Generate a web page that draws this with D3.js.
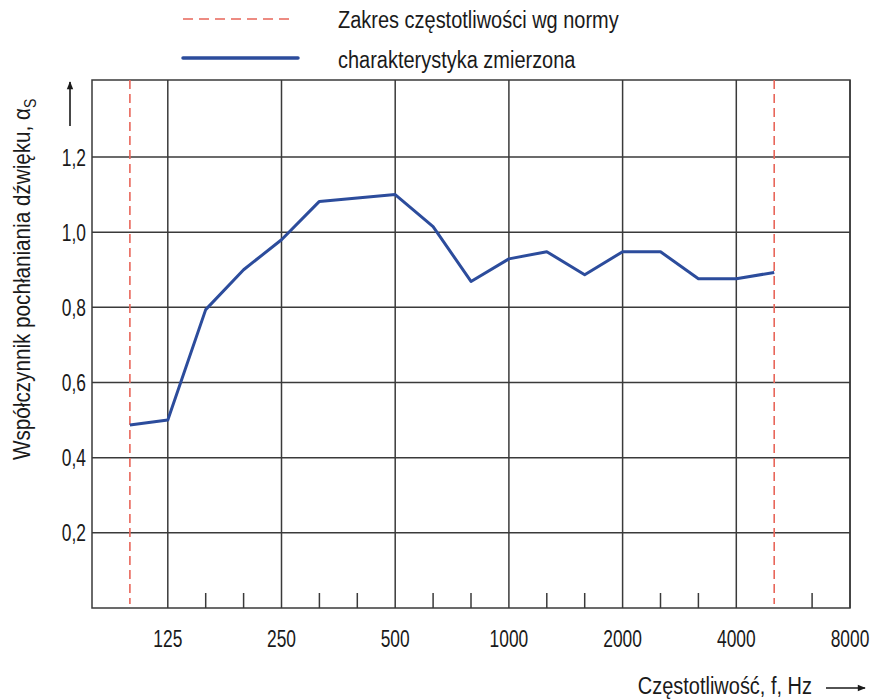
<!DOCTYPE html>
<html>
<head>
<meta charset="utf-8">
<script src="https://cdn.jsdelivr.net/npm/d3@7"></script>
<style>
  body { margin: 0; background: #fff; }
  svg text { font-family: "Liberation Sans", Arial, sans-serif; fill: #1a1a1a; font-size: 23.5px; }
</style>
</head>
<body>
<div id="chart"></div>
<script>
// third-octave bands on the axis (80 Hz = left edge, 8000 Hz = right edge)
var bands = ["80", "100", "125", "160", "200", "250", "315", "400", "500", "630", "800",
             "1000", "1250", "1600", "2000", "2500", "3150", "4000", "5000", "6300", "8000"];
var majorBands = ["125", "250", "500", "1000", "2000", "4000", "8000"];
// measured absorption coefficient, 100 .. 5000 Hz
var measuredBands = ["100", "125", "160", "200", "250", "315", "400", "500", "630", "800",
                     "1000", "1250", "1600", "2000", "2500", "3150", "4000", "5000"];
var measuredValues = [0.487, 0.50, 0.794, 0.90, 0.98, 1.082, 1.091, 1.10, 1.015, 0.869,
                      0.929, 0.948, 0.887, 0.948, 0.948, 0.876, 0.876, 0.893];
// frequency range by the standard
var rangeBands = ["100", "5000"];
var yTicks = [0.2, 0.4, 0.6, 0.8, 1.0, 1.2];
var yMax = 1.405;

var width = 871, height = 699;
var margin = {top: 80, right: 21, bottom: 91, left: 92};

// condensed look: squeeze the glyphs horizontally
var squeezeText = 0.85, squeezeNum = 0.74;

var svg = d3.select("#chart").append("svg")
    .attr("width", width)
    .attr("height", height);

var x = d3.scalePoint()
    .domain(bands)
    .range([margin.left, width - margin.right]);

var y = d3.scaleLinear()
    .domain([0, yMax])
    .range([height - margin.bottom, margin.top]);

var fmt = function(d) { return d3.format(".1f")(d).replace(".", ","); };

function place(px, py, sx) {
    return "translate(" + px + "," + py + ") scale(" + sx + ",1)";
}

var gridColor = "#3a3a3a";

// horizontal grid
svg.append("g")
    .selectAll("line")
    .data(yTicks)
    .enter().append("line")
    .attr("x1", x.range()[0])
    .attr("x2", x.range()[1])
    .attr("y1", function(d) { return y(d); })
    .attr("y2", function(d) { return y(d); })
    .attr("stroke", gridColor)
    .attr("stroke-width", 1.5);

// vertical grid at octave bands
svg.append("g")
    .selectAll("line")
    .data(majorBands)
    .enter().append("line")
    .attr("x1", function(d) { return x(d); })
    .attr("x2", function(d) { return x(d); })
    .attr("y1", y(yMax))
    .attr("y2", y(0))
    .attr("stroke", gridColor)
    .attr("stroke-width", 1.5);

// minor ticks at third-octave bands
svg.append("g")
    .selectAll("line")
    .data(bands.filter(function(d) {
        return majorBands.indexOf(d) < 0 && rangeBands.indexOf(d) < 0 && d != bands[0];
    }))
    .enter().append("line")
    .attr("x1", function(d) { return x(d); })
    .attr("x2", function(d) { return x(d); })
    .attr("y1", y(0) - 15)
    .attr("y2", y(0))
    .attr("stroke", gridColor)
    .attr("stroke-width", 1.5);

// frame
svg.append("rect")
    .attr("x", x.range()[0])
    .attr("y", y(yMax))
    .attr("width", x.range()[1] - x.range()[0])
    .attr("height", y(0) - y(yMax))
    .attr("fill", "none")
    .attr("stroke", gridColor)
    .attr("stroke-width", 1.5);

// y tick labels
svg.append("g")
    .selectAll("text")
    .data(yTicks)
    .enter().append("text")
    .attr("transform", function(d) { return place(x.range()[0] - 6, y(d), squeezeNum); })
    .attr("dy", "0.36em")
    .attr("text-anchor", "end")
    .text(fmt);

// x tick labels
svg.append("g")
    .selectAll("text")
    .data(majorBands)
    .enter().append("text")
    .attr("transform", function(d) { return place(x(d), y(0) + 39, squeezeNum); })
    .attr("text-anchor", "middle")
    .text(function(d) { return d; });

// standard range lines
svg.append("g")
    .selectAll("line")
    .data(rangeBands)
    .enter().append("line")
    .attr("x1", function(d) { return x(d); })
    .attr("x2", function(d) { return x(d); })
    .attr("y1", y(yMax))
    .attr("y2", y(0) - 4)
    .attr("stroke", "#e8665a")
    .attr("stroke-width", 1.6)
    .attr("stroke-dasharray", "9,5");

// measured line
var line = d3.line()
    .x(function(d, i) { return x(measuredBands[i]); })
    .y(function(d) { return y(d); });

svg.append("path")
    .datum(measuredValues)
    .attr("fill", "none")
    .attr("stroke", "#2c4c9c")
    .attr("stroke-width", 3)
    .attr("stroke-linejoin", "round")
    .attr("d", line);

// legend
var legend = svg.append("g");
legend.append("line")
    .attr("x1", 183).attr("x2", 292)
    .attr("y1", 19).attr("y2", 19)
    .attr("stroke", "#e8665a")
    .attr("stroke-width", 1.6)
    .attr("stroke-dasharray", "10,6");
legend.append("text")
    .attr("transform", place(338, 28, squeezeText))
    .text("Zakres częstotliwości wg normy");
legend.append("line")
    .attr("x1", 183).attr("x2", 298)
    .attr("y1", 58).attr("y2", 58)
    .attr("stroke", "#2c4c9c")
    .attr("stroke-width", 3.5)
    .attr("stroke-linecap", "round");
legend.append("text")
    .attr("transform", place(338, 68, squeezeText))
    .text("charakterystyka zmierzona");

// arrow marker
svg.append("defs").append("marker")
    .attr("id", "arrow")
    .attr("viewBox", "0 0 10 10")
    .attr("refX", 9).attr("refY", 5)
    .attr("markerWidth", 10).attr("markerHeight", 8)
    .attr("markerUnits", "userSpaceOnUse")
    .attr("orient", "auto")
    .append("path")
    .attr("d", "M0,1L10,5L0,9Z")
    .attr("fill", "#1a1a1a");

// y axis title
var yTitle = svg.append("text")
    .attr("transform", "translate(30,460) rotate(-90) scale(0.88,1)");
yTitle.append("tspan").text("Współczynnik pochłaniania dźwięku, α");
yTitle.append("tspan").attr("dy", 6).style("font-size", "16px").text("S");

svg.append("line")
    .attr("x1", 70).attr("x2", 70)
    .attr("y1", 126).attr("y2", 82)
    .attr("stroke", "#1a1a1a")
    .attr("stroke-width", 1.6)
    .attr("marker-end", "url(#arrow)");

// x axis title
svg.append("text")
    .attr("transform", place(812, 694, squeezeText))
    .attr("text-anchor", "end")
    .text("Częstotliwość, f, Hz");

svg.append("line")
    .attr("x1", 826).attr("x2", 865)
    .attr("y1", 688).attr("y2", 688)
    .attr("stroke", "#1a1a1a")
    .attr("stroke-width", 1.6)
    .attr("marker-end", "url(#arrow)");
</script>
</body>
</html>
